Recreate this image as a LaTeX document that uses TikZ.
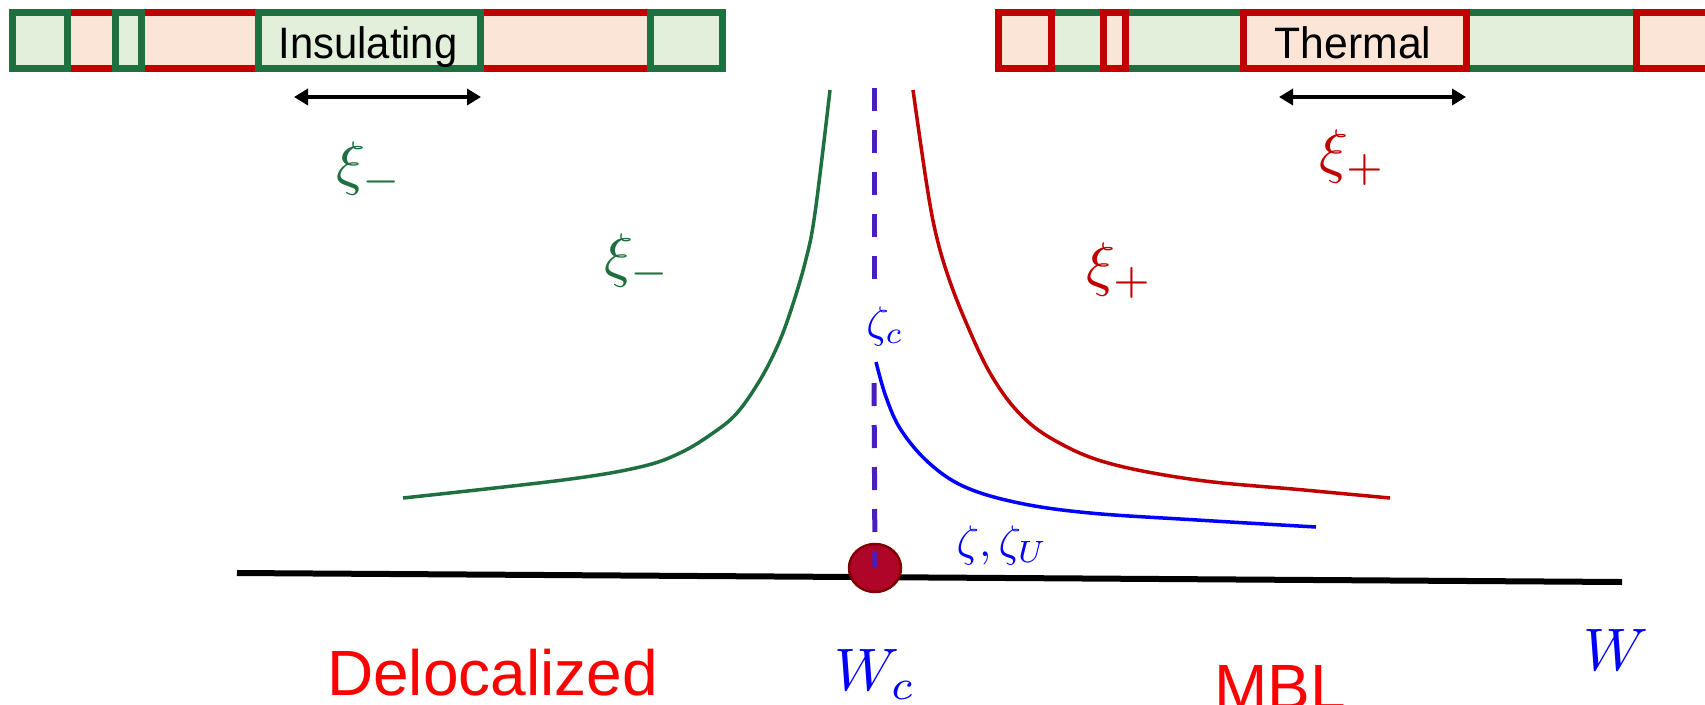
\documentclass[tikz,border=0pt]{standalone}
\usepackage[no-math]{fontspec}
\setmainfont{Liberation Sans}
\usetikzlibrary{arrows.meta,shapes.geometric}
\definecolor{insgreen}{RGB}{30,112,64}
\definecolor{insfill}{RGB}{226,239,218}
\definecolor{thred}{RGB}{192,0,0}
\definecolor{thfill}{RGB}{251,229,214}
\definecolor{critline}{RGB}{72,30,190}
\definecolor{critdot}{RGB}{175,5,40}
\definecolor{critrim}{RGB}{128,0,0}
\definecolor{phasered}{RGB}{255,0,0}
\newcommand{\fs}[1]{\fontsize{#1}{#1}\selectfont}
\begin{document}
\begin{tikzpicture}[x=1pt,y=-1pt, every node/.style={inner sep=0pt},
  insbox/.style={draw=insgreen,fill=insfill,line width=7pt},
  thbox/.style={draw=thred,fill=thfill,line width=7pt},
  lenarrow/.style={{Triangle[length=14pt,width=16pt]}-{Triangle[length=14pt,width=16pt]},line width=3.5pt},
  curve/.style={line width=3.5pt},
  critdash/.style={critline,line width=5pt,dash pattern=on 23pt off 19pt}]
  \useasboundingbox (0,0) rectangle (1705,704);
  % insulating chain (left)
  \draw[thbox] (12.5,12.5) rectangle (722.5,68.5);
  \foreach \a/\b in {9/71,112/145,255/484,647/726}
    \draw[insbox] (\a+3.5,12.5) rectangle (\b-3.5,68.5);
  \node[anchor=base,font=\fs{44},xscale=0.95] (ins) at (368,58) {Insulating};
  % thermal chain (right)
  \draw[insbox] (998.5,12.5) rectangle (1760,68.5);
  \foreach \a/\b in {995/1055,1100/1129,1240/1470,1633/1760}
    \draw[thbox] (\a+3.5,12.5) rectangle (\b-3.5,68.5);
  \node[anchor=base,font=\fs{44},xscale=0.97] (th) at (1353,58) {Thermal};
  % lengths
  \coordinate (la) at (294,97); \coordinate (lb) at (481,97);
  \coordinate (ra) at (1279,97); \coordinate (rb) at (1466,97);
  \draw[lenarrow] (la) -- (lb);
  \draw[lenarrow] (ra) -- (rb);
  \node[text=insgreen,scale=6] (xmtop) at (370,170) {$\xi_-$};
  \node[text=thred,scale=6] (xptop) at (1353,158) {$\xi_+$};
  % correlation lengths
  \draw[curve,insgreen] plot[smooth,tension=0.6] coordinates {(830,90) (815,213) (805,263) (790,313) (777,347) (760,380) (737,413) (713,433) (680,453) (640,467) (563,480) (403,498)};
  \draw[curve,thred] plot[smooth,tension=0.6] coordinates {(913,90) (926,180) (935,230) (947,273) (965,320) (990,373) (1019,413) (1054,440) (1108,463) (1197,480) (1304,490) (1390,498)};
  \draw[curve,blue] plot[smooth,tension=0.6] coordinates {(876,362) (886,397) (901,430) (929,463) (965,487) (1019,503) (1090,513) (1197,520) (1316,527)};
  \node[text=insgreen,scale=6] (xm) at (638,262) {$\xi_-$};
  \node[text=thred,scale=6] (xp) at (1120,271) {$\xi_+$};
  \node[text=blue,scale=4.4] (zc) at (885,326) {$\zeta_c$};
  \node[text=blue,scale=4.4] (zu) at (1002,545) {$\zeta,\zeta_U$};
  % disorder axis and transition point
  \coordinate (ax0) at (237,573); \coordinate (ax1) at (1622,582);
  \draw[line width=6pt] (ax0) -- (ax1);
  \node[ellipse,minimum width=52pt,minimum height=48pt,fill=critdot,draw=critrim,line width=2.5pt] (crit) at (875,568) {};
  \coordinate (dtop) at (874,88); \coordinate (dgap0) at (874,280); \coordinate (dgap1) at (874,383);
  \draw[critdash] (dtop) -- (dgap0);
  \draw[critdash] (dgap1) -- (crit.center);
  \node[text=blue,scale=6] (wc) at (875,674) {$W_c$};
  \node[text=blue,scale=6] (w) at (1616,650) {$W$};
  \node[anchor=base west,text=phasered,font=\fs{64}] (deloc) at (327,695) {Delocalized};
  \node[anchor=base west,text=phasered,font=\fs{64}] (mbl) at (1214,709) {MBL};
\end{tikzpicture}
\end{document}
